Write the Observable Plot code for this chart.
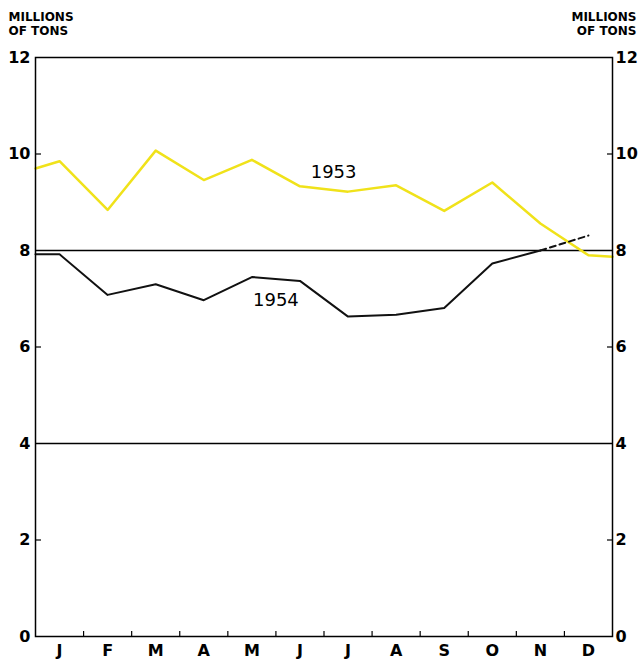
<!DOCTYPE html>
<html>
<head>
<meta charset="utf-8">
<script src="https://cdn.jsdelivr.net/npm/d3@7"></script>
<script src="https://cdn.jsdelivr.net/npm/@observablehq/plot@0.6"></script>
<style>
  html, body { margin: 0; padding: 0; background: #fff; }
  #chart svg { display: block; }
</style>
</head>
<body>
<div id="chart"></div>
<script>
const months = ["J","F","M","A","M","J","J","A","S","O","N","D"];
// 1953 monthly values (millions of tons), plus values where the line meets the frame edges
const v1953 = [9.85, 8.84, 10.07, 9.46, 9.88, 9.33, 9.22, 9.35, 8.82, 9.41, 8.56, 7.90];
const v1953Edges = [9.70, 7.87];
// 1954 monthly values (Jan–Nov) plus left-edge value
const v1954 = [7.92, 7.08, 7.30, 6.97, 7.45, 7.37, 6.63, 6.67, 6.81, 7.73, 8.00];
const v1954Edge = 7.92;
// projected 1954 (dashed) Nov -> Dec
const v1954Proj = [8.00, 8.31];
const gridLines = [4, 8];
const yLabels = [0, 2, 4, 6, 8, 10, 12];
const yMinorTicks = [2, 6, 10];
const seriesLabels = [
  {text: "1953", month: 6.2, value: 9.62},
  {text: "1954", month: 5.0, value: 6.96}
];

const s1953 = [{x: 0, y: v1953Edges[0]}, ...v1953.map((v, i) => ({x: i + 0.5, y: v})), {x: 12, y: v1953Edges[1]}];
const s1954 = [{x: 0, y: v1954Edge}, ...v1954.map((v, i) => ({x: i + 0.5, y: v}))];
const s1954p = v1954Proj.map((v, i) => ({x: 10.5 + i, y: v}));
const monthPos = months.map((m, i) => ({m, x: i + 0.5}));
const boundaries = d3.range(1, 12);

const font = "'DejaVu Sans', sans-serif";

const chart = Plot.plot({
  width: 638,
  height: 663,
  marginLeft: 35,
  marginRight: 26,
  marginTop: 57,
  marginBottom: 27,
  style: {fontFamily: font, background: "#fff", color: "#000"},
  x: {domain: [0, 12]},
  y: {domain: [0, 12]},
  marks: [
    Plot.ruleY(gridLines, {stroke: "#000", strokeWidth: 1.5}),
    Plot.line(s1953, {x: "x", y: "y", stroke: "#f0e21a", strokeWidth: 2.5}),
    Plot.line(s1954, {x: "x", y: "y", stroke: "#111", strokeWidth: 2}),
    Plot.line(s1954p, {x: "x", y: "y", stroke: "#111", strokeWidth: 2, strokeDasharray: "6,4"}),
    Plot.frame({stroke: "#000", strokeWidth: 1.5}),
    Plot.axisY(yLabels, {anchor: "left", tickSize: 0, tickPadding: 5, label: null, fontSize: 16, fontWeight: "bold", letterSpacing: "-0.5px"}),
    Plot.axisY(yLabels, {anchor: "right", tickSize: 0, tickPadding: 3, label: null, fontSize: 16, fontWeight: "bold", letterSpacing: "-0.5px"}),
    Plot.axisY(yMinorTicks, {anchor: "left", tickSize: -6, tickFormat: () => "", label: null, strokeWidth: 1.2}),
    Plot.axisY(yMinorTicks, {anchor: "right", tickSize: -6, tickFormat: () => "", label: null, strokeWidth: 1.2}),
    Plot.axisX(boundaries, {anchor: "bottom", tickSize: -5, tickFormat: () => "", label: null, strokeWidth: 1.2}),
    Plot.text(monthPos, {x: "x", frameAnchor: "bottom", text: "m", dy: 14, fontSize: 16, fontWeight: "bold", lineAnchor: "middle"}),
    Plot.text(seriesLabels, {x: "month", y: "value", text: "text", fontSize: 18, letterSpacing: "3.5px"}),
    Plot.text(["MILLIONS\nOF TONS"], {frameAnchor: "top-left", dx: -27, dy: -46, textAnchor: "start", lineAnchor: "top", fontSize: 12, fontWeight: "bold", lineHeight: 1.15, letterSpacing: "-0.3px"}),
    Plot.text(["MILLIONS\nOF TONS"], {frameAnchor: "top-right", dx: 24, dy: -46, textAnchor: "end", lineAnchor: "top", fontSize: 12, fontWeight: "bold", lineHeight: 1.15, letterSpacing: "-0.3px"})
  ]
});
document.getElementById("chart").appendChild(chart);
</script>
</body>
</html>
